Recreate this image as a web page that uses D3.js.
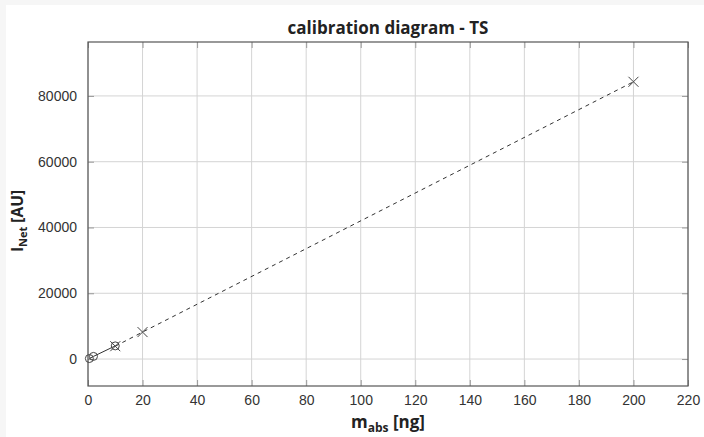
<!DOCTYPE html>
<html>
<head>
<meta charset="utf-8">
<script src="https://cdn.jsdelivr.net/npm/d3@7"></script>
<style>
  html, body { margin: 0; padding: 0; background: #f6f6f6; }
  svg { display: block; font-family: "Open Sans", "Noto Sans", sans-serif; }
</style>
</head>
<body>
<svg id="chart" width="704" height="437"></svg>
<script>
// calibration points (m_abs in ng, I_Net in AU)
var circleMass = [0.5, 2, 10];
var circleSignal = [150, 800, 4000];
var crossMass = [10, 20, 200];
var crossSignal = [3900, 8200, 84300];
var xTicks = [0, 20, 40, 60, 80, 100, 120, 140, 160, 180, 200, 220];
var yTicks = [0, 20000, 40000, 60000, 80000];

var svg = d3.select("#chart"),
    WIDTH = 704,
    HEIGHT = 437,
    MARGINS = { top: 42, right: 16, bottom: 51, left: 88 };

svg.append("rect")
    .attr("x", 6).attr("y", 5)
    .attr("width", WIDTH - 6).attr("height", HEIGHT - 5)
    .attr("fill", "#fff");

var xScale = d3.scaleLinear().domain([0, 220]).range([MARGINS.left, WIDTH - MARGINS.right]),
    yScale = d3.scaleLinear().domain([-8200, 96400]).range([HEIGHT - MARGINS.bottom, MARGINS.top]);

var x0 = MARGINS.left, x1 = WIDTH - MARGINS.right,
    y0 = HEIGHT - MARGINS.bottom, y1 = MARGINS.top;

// grid
svg.append("g").selectAll("line").data(xTicks).enter().append("line")
    .attr("x1", d => xScale(d)).attr("x2", d => xScale(d))
    .attr("y1", y0).attr("y2", y1)
    .attr("stroke", "#d4d4d4").attr("stroke-width", 1);
svg.append("g").selectAll("line").data(yTicks).enter().append("line")
    .attr("x1", x0).attr("x2", x1)
    .attr("y1", d => yScale(d)).attr("y2", d => yScale(d))
    .attr("stroke", "#d4d4d4").attr("stroke-width", 1);

// axes (inner ticks, labels outside)
var xAxis = d3.axisBottom(xScale).tickValues(xTicks).tickSize(-6).tickPadding(9).tickFormat(d3.format("d")),
    yAxis = d3.axisLeft(yScale).tickValues(yTicks).tickSize(-6).tickPadding(11).tickFormat(d3.format("d")),
    xTop = d3.axisTop(xScale).tickValues(xTicks).tickSize(-6).tickFormat(""),
    yRight = d3.axisRight(yScale).tickValues(yTicks).tickSize(-6).tickFormat("");

function style(g) {
    g.select(".domain").remove();
    g.selectAll(".tick line").attr("stroke", "#999");
    g.selectAll(".tick text").attr("fill", "#333").style("font-size", "14px");
}
svg.append("g").attr("transform", "translate(0," + y0 + ")").call(xAxis).call(style);
svg.append("g").attr("transform", "translate(" + x0 + ",0)").call(yAxis).call(style);
svg.append("g").attr("transform", "translate(0," + y1 + ")").call(xTop).call(style);
svg.append("g").attr("transform", "translate(" + x1 + ",0)").call(yRight).call(style);

// frame
svg.append("rect")
    .attr("x", x0).attr("y", y1)
    .attr("width", x1 - x0).attr("height", y0 - y1)
    .attr("fill", "none").attr("stroke", "#555").attr("stroke-width", 1.2);

// lines
var lineGen = d3.line().x(d => xScale(d[0])).y(d => yScale(d[1]));
svg.append("path")
    .attr("d", lineGen(d3.zip(circleMass, circleSignal)))
    .attr("fill", "none").attr("stroke", "#333").attr("stroke-width", 1);
svg.append("path")
    .attr("d", lineGen(d3.zip(crossMass, crossSignal)))
    .attr("fill", "none").attr("stroke", "#333").attr("stroke-width", 1)
    .attr("stroke-dasharray", "4,4");

// markers
svg.append("g").selectAll("circle").data(d3.zip(circleMass, circleSignal)).enter().append("circle")
    .attr("cx", d => xScale(d[0])).attr("cy", d => yScale(d[1])).attr("r", 4)
    .attr("fill", "none").attr("stroke", "#444").attr("stroke-width", 1);
var s = 5;
svg.append("g").selectAll("path").data(d3.zip(crossMass, crossSignal)).enter().append("path")
    .attr("d", d => {
        var cx = xScale(d[0]), cy = yScale(d[1]);
        return "M" + (cx - s) + "," + (cy - s) + "L" + (cx + s) + "," + (cy + s) +
               "M" + (cx - s) + "," + (cy + s) + "L" + (cx + s) + "," + (cy - s);
    })
    .attr("fill", "none").attr("stroke", "#444").attr("stroke-width", 1);

// title
svg.append("text")
    .attr("x", (x0 + x1) / 2).attr("y", 34)
    .attr("text-anchor", "middle")
    .style("font-size", "17px").style("font-weight", "bold").attr("fill", "#222")
    .text("calibration diagram - TS");

// x label
var xl = svg.append("text")
    .attr("x", (x0 + x1) / 2).attr("y", 428)
    .attr("text-anchor", "middle")
    .style("font-size", "17px").style("font-weight", "bold").attr("fill", "#222");
xl.append("tspan").text("m");
xl.append("tspan").attr("dy", 4).style("font-size", "12px").text("abs");
xl.append("tspan").attr("dy", -4).text(" [ng]");

// y label
var yl = svg.append("text")
    .attr("transform", "translate(23,221) rotate(-90)")
    .attr("text-anchor", "middle")
    .style("font-size", "15.5px").style("font-weight", "bold").attr("fill", "#222");
yl.append("tspan").text("I");
yl.append("tspan").attr("dy", 4).style("font-size", "11px").text("Net");
yl.append("tspan").attr("dy", -4).text(" [AU]");
</script>
</body>
</html>
